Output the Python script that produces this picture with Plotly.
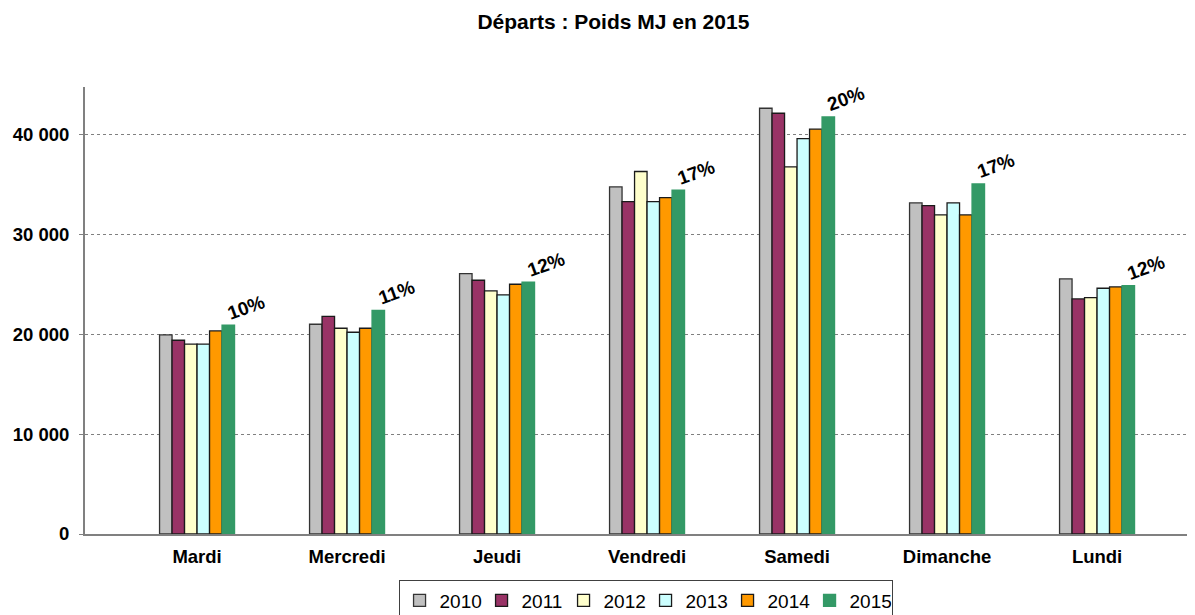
import plotly.graph_objects as go

days = ["Mardi", "Mercredi", "Jeudi", "Vendredi", "Samedi", "Dimanche", "Lundi"]
years = ["2010", "2011", "2012", "2013", "2014", "2015"]
v2010 = [19950, 21020, 26100, 34790, 42670, 33180, 25560]
v2011 = [19420, 21820, 25430, 33320, 42170, 32920, 23560]
v2012 = [19020, 20620, 24360, 36330, 36790, 31980, 23690]
v2013 = [19020, 20220, 23960, 33320, 39630, 33180, 24630]
v2014 = [20350, 20620, 25030, 33720, 40570, 31980, 24760]
v2015 = [20920, 22420, 25230, 34450, 41800, 35090, 24900]
shares = ["10%", "11%", "12%", "17%", "20%", "17%", "12%"]
tick_vals = [0, 10000, 20000, 30000, 40000]
tick_text = ["0", "10 000", "20 000", "30 000", "40 000"]

series = [v2010, v2011, v2012, v2013, v2014, v2015]
colors = ["#C0C0C0", "#993366", "#FFFFCC", "#CCFFFF", "#FF9900", "#339966"]
line_colors = ["#333333", "#1a1a1a", "#1a1a1a", "#1a1a1a", "#1a1a1a", "#339966"]

FONT = "Liberation Sans, Arial, sans-serif"

fig = go.Figure()
for name, vals, c, lc in zip(years, series, colors, line_colors):
    fig.add_trace(go.Bar(
        x=days, y=vals, name=name,
        marker=dict(color=c, line=dict(color=lc, width=1.3)),
    ))

for d, v, s in zip(days, v2015, shares):
    fig.add_annotation(
        x=d, y=v, text="<b>%s</b>" % s, showarrow=False,
        xref="x", yref="y", xshift=49, yshift=18,
        textangle=-20, font=dict(family=FONT, size=19, color="#000"),
    )

# page body has an 8px margin, so the figure is sized to end at the window edge
fig.update_layout(
    width=1187, height=607,
    margin=dict(l=77, r=0, t=79, b=81, autoexpand=False),
    paper_bgcolor="white", plot_bgcolor="white",
    barmode="group", bargap=0.5, bargroupgap=0,
    title=dict(text="<b>Départs : Poids MJ en 2015</b>", x=0.51, xanchor="center",
               y=0.977, yanchor="middle",
               font=dict(family=FONT, size=21, color="#000")),
    font=dict(family=FONT, color="#000"),
    showlegend=True,
    legend=dict(orientation="h", x=0.505, xanchor="center", y=-0.104, yanchor="top",
                bordercolor="#404040", borderwidth=1, bgcolor="white",
                font=dict(family=FONT, size=19, color="#000"),
                itemwidth=30, tracegroupgap=0, entrywidth=37),
)
fig.update_xaxes(
    type="category", range=[-0.747, 6.653], automargin=False,
    showline=True, linecolor="#808080", linewidth=2,
    showgrid=False, ticks="", ticklabelstandoff=5,
    tickfont=dict(family=FONT, size=18.5, color="#000", weight="bold"),
)
fig.update_yaxes(
    range=[0, 44800], tickvals=tick_vals, ticktext=tick_text, automargin=False,
    showline=True, linecolor="#808080", linewidth=2,
    showgrid=True, gridcolor="#808080", griddash="dot", gridwidth=1,
    ticks="outside", ticklen=4, tickcolor="#808080", ticklabelstandoff=6,
    zeroline=False,
    tickfont=dict(family=FONT, size=18.5, color="#000", weight="bold"),
)

fig.write_html("out.html")
